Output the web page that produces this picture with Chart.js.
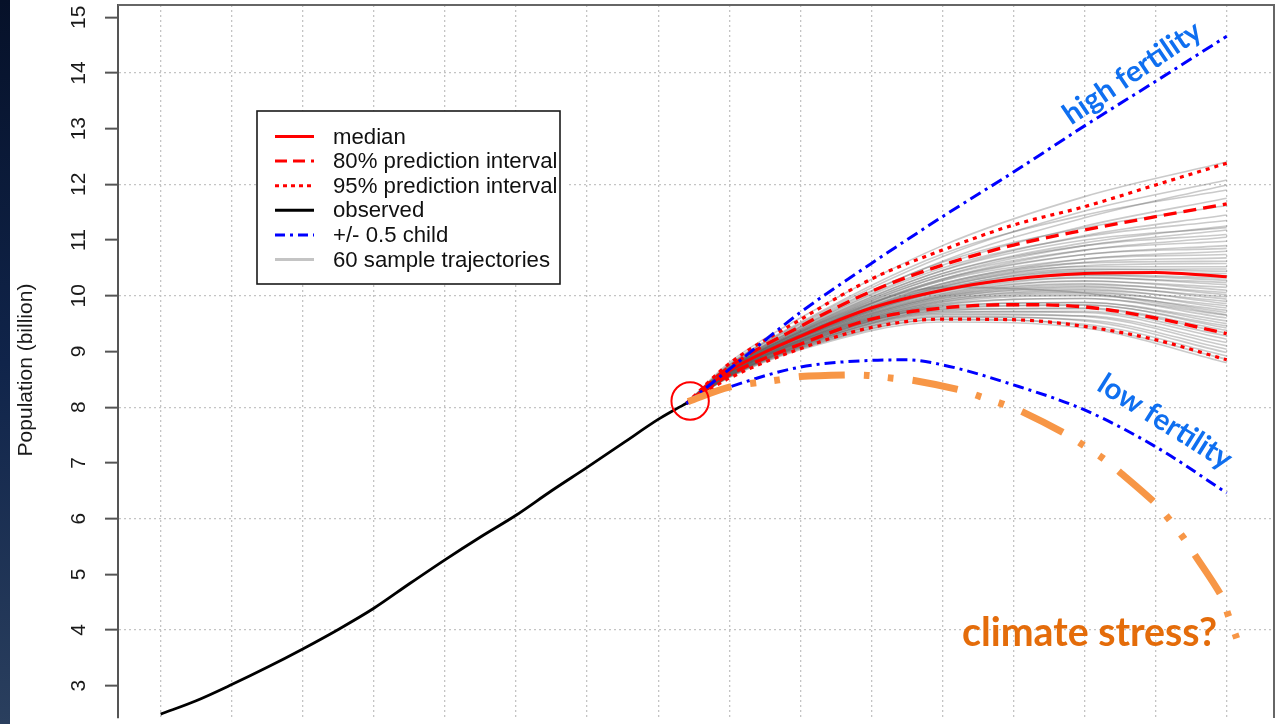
<!DOCTYPE html>
<html>
<head>
<meta charset="utf-8">
<script src="https://cdn.jsdelivr.net/npm/chart.js@4.4.1/dist/chart.umd.min.js"></script>
<style>
html,body{margin:0;padding:0;background:#fff;overflow:hidden}
#wrap{position:relative;width:1278px;height:724px}
</style>
</head>
<body>
<div id="wrap"><canvas id="c" width="1278" height="724"></canvas></div>
<script>
// ---------------- DATA ----------------
const observedYears = [1950,1955,1960,1965,1970,1975,1980,1985,1990,1995,2000,2005,2010,2015,2020,2022,2024];
const observedPop   = [2.49,2.73,3.02,3.33,3.66,4.01,4.39,4.83,5.26,5.67,6.06,6.50,6.92,7.35,7.78,7.93,8.07];

const projYears  = [2024,2030,2040,2050,2060,2070,2080,2090,2100];
const medianPop  = [8.07,8.65,9.27,9.78,10.10,10.30,10.40,10.42,10.34];
const pi80Upper  = [8.07,8.72,9.45,10.08,10.55,10.91,11.18,11.42,11.65];
const pi80Lower  = [8.07,8.58,9.13,9.58,9.78,9.84,9.80,9.60,9.32];
const pi95Upper  = [8.07,8.78,9.57,10.30,10.82,11.27,11.60,11.99,12.38];
const pi95Lower  = [8.07,8.52,9.05,9.43,9.58,9.57,9.45,9.21,8.85];
const highFertility = [8.07,8.68,9.70,10.58,11.42,12.22,13.05,13.85,14.66];

const lowFertilityYears = [2024,2030,2040,2050,2055,2060,2070,2080,2090,2100];
const lowFertility      = [8.07,8.36,8.72,8.84,8.85,8.76,8.40,7.95,7.29,6.46];

const climateYears = [2024.2,2030,2037,2040,2046.5,2049.5,2053,2056,2062.5,2065.3,2068.6,2071.2,2077.2,2079.8,2082.6,2084.9,2090,2092,2094,2095.5,2099.3,2100.2,2101.4];
const climatePop   = [8.10,8.36,8.49,8.55,8.58,8.57,8.52,8.48,8.31,8.19,8.05,7.92,7.53,7.32,7.08,6.84,6.27,5.97,5.64,5.35,4.60,4.27,3.85];

const circleYear = 2024.5;
const circlePop  = 8.11;

const trajYears = [2024,2030,2040,2060,2080,2100];
const sampleTrajectories = [
  [8.07,8.80,9.60,10.90,11.78,12.40],
  [8.07,8.76,9.50,10.70,11.52,12.08],
  [8.07,8.73,9.45,10.62,11.40,11.99],
  [8.07,8.77,9.52,10.75,11.45,11.90],
  [8.07,8.73,9.44,10.55,11.25,11.75],
  [8.07,8.75,9.48,10.60,11.22,11.62],
  [8.07,8.71,9.40,10.46,11.08,11.45],
  [8.07,8.72,9.43,10.50,11.06,11.35],
  [8.07,8.70,9.38,10.40,10.95,11.25],
  [8.07,8.71,9.41,10.45,11.00,11.22],
  [8.07,8.69,9.36,10.36,10.90,11.18],
  [8.07,8.70,9.39,10.40,10.90,11.10],
  [8.07,8.68,9.34,10.30,10.82,11.05],
  [8.07,8.69,9.37,10.35,10.82,10.98],
  [8.07,8.68,9.33,10.28,10.74,10.90],
  [8.07,8.69,9.36,10.30,10.74,10.85],
  [8.07,8.67,9.31,10.22,10.66,10.80],
  [8.07,8.68,9.35,10.27,10.66,10.74],
  [8.07,8.66,9.30,10.20,10.60,10.68],
  [8.07,8.68,9.33,10.22,10.59,10.62],
  [8.07,8.66,9.29,10.16,10.54,10.58],
  [8.07,8.67,9.31,10.18,10.52,10.52],
  [8.07,8.65,9.27,10.12,10.47,10.48],
  [8.07,8.66,9.30,10.16,10.48,10.44],
  [8.07,8.64,9.26,10.10,10.42,10.40],
  [8.07,8.65,9.28,10.13,10.44,10.36],
  [8.07,8.64,9.25,10.08,10.38,10.32],
  [8.07,8.65,9.27,10.10,10.37,10.28],
  [8.07,8.63,9.24,10.04,10.32,10.24],
  [8.07,8.64,9.26,10.07,10.33,10.20],
  [8.07,8.62,9.22,10.01,10.26,10.15],
  [8.07,8.64,9.25,10.03,10.27,10.10],
  [8.07,8.62,9.21,9.98,10.20,10.06],
  [8.07,8.63,9.24,10.00,10.22,10.02],
  [8.07,8.61,9.20,9.95,10.15,9.98],
  [8.07,8.63,9.23,9.98,10.17,9.94],
  [8.07,8.61,9.19,9.92,10.10,9.90],
  [8.07,8.62,9.21,9.95,10.12,9.86],
  [8.07,8.60,9.18,9.89,10.05,9.82],
  [8.07,8.61,9.20,9.92,10.07,9.78],
  [8.07,8.60,9.17,9.86,10.00,9.74],
  [8.07,8.61,9.19,9.89,10.02,9.70],
  [8.07,8.59,9.15,9.83,9.95,9.65],
  [8.07,8.60,9.17,9.85,9.95,9.60],
  [8.07,8.58,9.14,9.80,9.88,9.55],
  [8.07,8.59,9.16,9.82,9.88,9.50],
  [8.07,8.57,9.12,9.76,9.83,9.46],
  [8.07,8.59,9.15,9.79,9.84,9.42],
  [8.07,8.57,9.11,9.73,9.78,9.38],
  [8.07,8.58,9.13,9.76,9.77,9.33],
  [8.07,8.56,9.10,9.70,9.72,9.28],
  [8.07,8.57,9.12,9.72,9.70,9.22],
  [8.07,8.56,9.08,9.66,9.64,9.16],
  [8.07,8.56,9.10,9.68,9.63,9.10],
  [8.07,8.55,9.07,9.62,9.57,9.04],
  [8.07,8.56,9.09,9.63,9.55,8.98],
  [8.07,8.54,9.05,9.57,9.49,8.92],
  [8.07,8.55,9.06,9.58,9.46,8.86],
  [8.07,8.53,9.03,9.53,9.42,8.80],
  [8.07,8.66,9.30,10.15,10.05,9.66]
];

const yTickValues = [3,4,5,6,7,8,9,10,11,12,13,14,15];
const yTickLabels = ['3','4','5','6','7','8','9','10','11','12','13','14','15'];
const xGridYears  = [1950,1960,1970,1980,1990,2000,2010,2020,2030,2040,2050,2060,2070,2080,2090,2100];
const yAxisTitle  = 'Population (billion)';
const legendLabels = ['median','80% prediction interval','95% prediction interval','observed','+/- 0.5 child','60 sample trajectories'];
const annotationTexts = ['high fertility','low fertility','climate stress?'];

// ---------------- STYLES ----------------
const RED = '#ff0000', BLUE = '#0000ff', ORANGE = '#f79646';
const legendStyles = [
  {color: RED, dash: [], width: 3},
  {color: RED, dash: [12, 6], width: 3},
  {color: RED, dash: [4, 4], width: 3},
  {color: '#000000', dash: [], width: 3},
  {color: BLUE, dash: [10, 5, 3, 5], width: 3},
  {color: '#c4c4c4', dash: [], width: 3}
];
const SANS = '"Liberation Sans", Arial, Helvetica, sans-serif';
const ANNO = 'Lato, "Open Sans", sans-serif';

function xy(xs, ys) { return xs.map((x, i) => ({x: x, y: ys[i]})); }

const datasets = [];
datasets.push({ label: 'circle', data: [{x: circleYear, y: circlePop}], showLine: false,
  pointRadius: 18.7, pointBorderWidth: 2, pointBorderColor: RED, pointBackgroundColor: 'rgba(0,0,0,0)', order: 0 });
datasets.push({ label: 'climate stress', data: xy(climateYears, climatePop), borderColor: ORANGE, borderWidth: 7,
  borderDash: [46, 19, 6, 18, 6, 19], order: 1, tension: 0.3, cubicInterpolationMode: 'default' });
datasets.push({ label: 'high fertility', data: xy(projYears, highFertility), borderColor: BLUE, borderWidth: 3,
  borderDash: [12, 5, 3, 5], order: 2 });
datasets.push({ label: 'low fertility', data: xy(lowFertilityYears, lowFertility), borderColor: BLUE, borderWidth: 3,
  borderDash: [11, 5, 3, 5], order: 2 });
datasets.push({ label: 'observed', data: xy(observedYears, observedPop), borderColor: '#000', borderWidth: 2.8, order: 3 });
datasets.push({ label: 'median', data: xy(projYears, medianPop), borderColor: RED, borderWidth: 3, order: 4 });
datasets.push({ label: '80 upper', data: xy(projYears, pi80Upper), borderColor: RED, borderWidth: 3.4, borderDash: [13, 7], order: 4 });
datasets.push({ label: '80 lower', data: xy(projYears, pi80Lower), borderColor: RED, borderWidth: 3.4, borderDash: [13, 7], order: 4 });
datasets.push({ label: '95 upper', data: xy(projYears, pi95Upper), borderColor: RED, borderWidth: 3.2, borderDash: [4, 5], order: 4 });
datasets.push({ label: '95 lower', data: xy(projYears, pi95Lower), borderColor: RED, borderWidth: 3.2, borderDash: [4, 5], order: 4 });
sampleTrajectories.forEach((t, i) => {
  datasets.push({ label: 'traj' + i, data: xy(trajYears, t), borderColor: 'rgba(90,90,90,0.32)', borderWidth: 1.6, order: 10 });
});

function fitFont(ctx, text, weight, family, target) {
  ctx.font = weight + ' 100px ' + family;
  return 100 * target / ctx.measureText(text).width;
}

const decor = {
  id: 'decor',
  beforeDraw(chart) {
    const ctx = chart.ctx;
    ctx.save();
    ctx.fillStyle = '#fff';
    ctx.fillRect(0, 0, chart.width, chart.height);
    const g = ctx.createLinearGradient(0, 0, 0, chart.height);
    g.addColorStop(0, '#061129');
    g.addColorStop(0.5, '#10244a');
    g.addColorStop(1, '#2a3f5e');
    ctx.fillStyle = g;
    ctx.fillRect(0, 0, 10, chart.height);
    ctx.restore();
  },
  afterDraw(chart) {
    const ctx = chart.ctx, a = chart.chartArea, xs = chart.scales.x, ys = chart.scales.y;
    ctx.save();
    // top & right frame
    ctx.strokeStyle = '#666'; ctx.lineWidth = 2; ctx.setLineDash([]);
    ctx.beginPath(); ctx.moveTo(a.left, a.top); ctx.lineTo(a.right, a.top); ctx.lineTo(a.right, a.bottom); ctx.stroke();

    // y tick labels (rotated, R style)
    ctx.fillStyle = '#1a1a1a';
    ctx.font = '21px ' + SANS;
    ctx.textAlign = 'center'; ctx.textBaseline = 'middle';
    yTickValues.forEach((v, i) => {
      ctx.save();
      ctx.translate(79.5, ys.getPixelForValue(v));
      ctx.rotate(-Math.PI / 2);
      ctx.fillText(yTickLabels[i], 0, 0);
      ctx.restore();
    });
    // y axis title
    ctx.save();
    ctx.font = '21px ' + SANS;
    ctx.translate(26, 370);
    ctx.rotate(-Math.PI / 2);
    ctx.fillText(yAxisTitle, 0, 0);
    ctx.restore();

    // legend box
    const bx = 257, by = 111, bw = 303, bh = 173;
    ctx.fillStyle = '#fff';
    ctx.fillRect(bx, by, bw, bh);
    ctx.font = '22.2px ' + SANS;
    ctx.textAlign = 'left'; ctx.textBaseline = 'middle';
    legendLabels.forEach((lab, i) => {
      const yy = 136.5 + i * 24.6;
      const st = legendStyles[i];
      ctx.strokeStyle = st.color; ctx.lineWidth = st.width; ctx.setLineDash(st.dash);
      ctx.beginPath(); ctx.moveTo(275, yy); ctx.lineTo(314, yy); ctx.stroke();
      ctx.fillStyle = '#111';
      ctx.fillText(lab, 333, yy + 1);
    });
    ctx.setLineDash([]);
    ctx.fillStyle = '#fff';
    ctx.fillRect(bx + bw, by + 2, 8, bh - 4);
    ctx.strokeStyle = '#1a1a1a'; ctx.lineWidth = 1.6;
    ctx.strokeRect(bx, by, bw, bh);

    // annotations
    ctx.fillStyle = '#0f6ff0';
    ctx.textAlign = 'center'; ctx.textBaseline = 'middle';
    let fs = fitFont(ctx, annotationTexts[0], 'bold', ANNO, 160);
    ctx.font = 'bold ' + fs + 'px ' + ANNO;
    ctx.save();
    ctx.translate(xs.getPixelForValue(2086.7), ys.getPixelForValue(14.0));
    ctx.rotate(-34 * Math.PI / 180);
    ctx.fillText(annotationTexts[0], 0, 0);
    ctx.restore();

    fs = fitFont(ctx, annotationTexts[1], 'bold', ANNO, 152);
    ctx.font = 'bold ' + fs + 'px ' + ANNO;
    ctx.save();
    ctx.translate(xs.getPixelForValue(2091.3), ys.getPixelForValue(7.74));
    ctx.rotate(32 * Math.PI / 180);
    ctx.fillText(annotationTexts[1], 0, 0);
    ctx.restore();

    fs = fitFont(ctx, annotationTexts[2], 'bold', ANNO, 255);
    ctx.font = 'bold ' + fs + 'px ' + ANNO;
    ctx.fillStyle = '#e46c0a';
    ctx.textAlign = 'left'; ctx.textBaseline = 'alphabetic';
    ctx.fillText(annotationTexts[2], xs.getPixelForValue(2062.75), ys.getPixelForValue(3.72));
    ctx.restore();
  }
};

new Chart(document.getElementById('c'), {
  type: 'line',
  data: { datasets: datasets },
  options: {
    responsive: false,
    animation: false,
    devicePixelRatio: 1,
    layout: { autoPadding: false, padding: { top: 5, right: 4, left: 0, bottom: 0 } },
    plugins: { legend: { display: false }, tooltip: { enabled: false } },
    elements: {
      point: { radius: 0, hitRadius: 0, hoverRadius: 0 },
      line: { cubicInterpolationMode: 'monotone', borderCapStyle: 'butt', fill: false }
    },
    scales: {
      x: {
        type: 'linear', min: 1944.0, max: 2106.65,
        afterBuildTicks: s => { s.ticks = xGridYears.map(v => ({ value: v })); },
        afterFit: s => { s.height = 6; },
        ticks: { display: false },
        grid: { color: '#c4c4c4', lineWidth: 1.3, drawTicks: false },
        border: { display: false, dash: [2, 3] }
      },
      y: {
        type: 'linear', min: 2.42, max: 15.22,
        afterBuildTicks: s => { s.ticks = yTickValues.map(v => ({ value: v })); },
        afterFit: s => { s.width = 118; },
        ticks: { display: false },
        grid: {
          color: c => (c.tick && c.tick.value % 2 === 0) ? '#c4c4c4' : 'rgba(0,0,0,0)',
          lineWidth: 1.3, drawTicks: true, tickLength: 13, tickColor: '#555', tickWidth: 2
        },
        border: { display: true, color: '#555', width: 2, dash: [2, 3] }
      }
    }
  },
  plugins: [decor]
});
</script>
</body>
</html>
